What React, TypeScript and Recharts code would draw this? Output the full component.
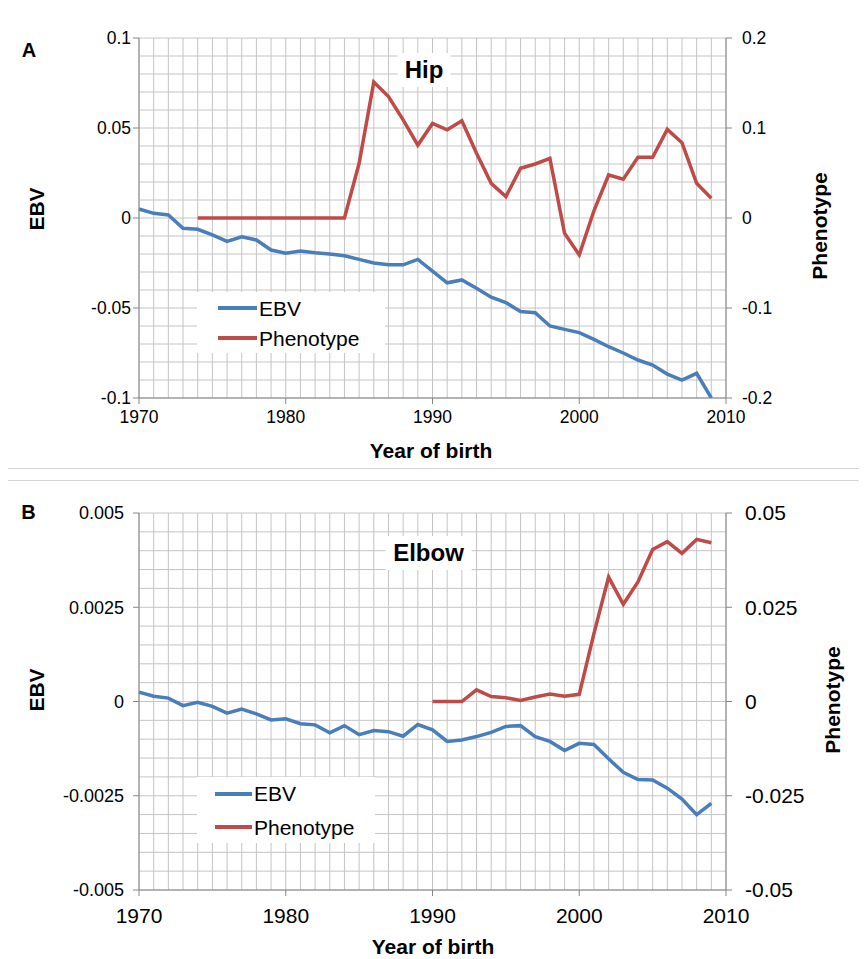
import React from "react";
import { LineChart, Line, XAxis, YAxis, CartesianGrid, Legend } from "recharts";

const years = [
  1970, 1971, 1972, 1973, 1974, 1975, 1976, 1977, 1978, 1979,
  1980, 1981, 1982, 1983, 1984, 1985, 1986, 1987, 1988, 1989,
  1990, 1991, 1992, 1993, 1994, 1995, 1996, 1997, 1998, 1999,
  2000, 2001, 2002, 2003, 2004, 2005, 2006, 2007, 2008, 2009,
];

const hipEbv = [
  0.005, 0.0026, 0.0017, -0.0057, -0.0063, -0.0094, -0.013, -0.0104, -0.0122, -0.0178,
  -0.0196, -0.0183, -0.0193, -0.02, -0.021, -0.023, -0.025, -0.026, -0.026, -0.023,
  -0.0295, -0.036, -0.0344, -0.039, -0.044, -0.047, -0.052, -0.0526, -0.06, -0.0619,
  -0.0637, -0.0674, -0.0715, -0.075, -0.0789, -0.0817, -0.0867, -0.09, -0.0863, -0.1,
];
const hipPheno = [
  null, null, null, null, 0, 0, 0, 0, 0, 0,
  0, 0, 0, 0, 0, 0.0608, 0.151, 0.135, 0.109, 0.081,
  0.105, 0.098, 0.108, 0.072, 0.0385, 0.0237, 0.0552, 0.06, 0.0663, -0.017,
  -0.041, 0.008, 0.0478, 0.043, 0.0674, 0.0674, 0.0985, 0.0837, 0.0385, 0.0219,
];

const elbowEbv = [
  0.00025, 0.00014, 0.00009, -0.00011, -0.00002, -0.00013, -0.00031, -0.0002, -0.00033, -0.00049,
  -0.00046, -0.00059, -0.00062, -0.00083, -0.00064, -0.00088, -0.00077, -0.0008, -0.00092, -0.00061,
  -0.00075, -0.00106, -0.00102, -0.00093, -0.00082, -0.00066, -0.00064, -0.00093, -0.00106, -0.0013,
  -0.00111, -0.00114, -0.00152, -0.00188, -0.00207, -0.00208, -0.0023, -0.00259, -0.003, -0.0027,
];
const elbowPheno = [
  null, null, null, null, null, null, null, null, null, null,
  null, null, null, null, null, null, null, null, null, null,
  0, 0, 0, 0.0031, 0.0013, 0.001, 0.0003, 0.0012, 0.002, 0.0014,
  0.0019, 0.018, 0.033, 0.0258, 0.0317, 0.0403, 0.0424, 0.0393, 0.043, 0.0421,
];

const xTicks = [1970, 1980, 1990, 2000, 2010];
const gridYears = [...years, 2010];

const hipLeftTicks = [-0.1, -0.05, 0, 0.05, 0.1];
const hipRightTicks = [-0.2, -0.1, 0, 0.1, 0.2];
const hipGridValues = [
  -0.1, -0.09, -0.08, -0.07, -0.06, -0.05, -0.04, -0.03, -0.02, -0.01, 0,
  0.01, 0.02, 0.03, 0.04, 0.05, 0.06, 0.07, 0.08, 0.09, 0.1,
];

const elbowLeftTicks = [-0.005, -0.0025, 0, 0.0025, 0.005];
const elbowRightTicks = [-0.05, -0.025, 0, 0.025, 0.05];
const elbowGridValues = [
  -0.005, -0.0045, -0.004, -0.0035, -0.003, -0.0025, -0.002, -0.0015, -0.001, -0.0005, 0,
  0.0005, 0.001, 0.0015, 0.002, 0.0025, 0.003, 0.0035, 0.004, 0.0045, 0.005,
];

const BLUE = "#4a7ebb";
const RED = "#be4b48";
const GRID = "#c4c4c4";
const AXIS = "#868686";
const FONT = "'Liberation Sans', Arial, sans-serif";

const hipData = years.map((year, i) => ({ year, ebv: hipEbv[i], pheno: hipPheno[i] }));
const elbowData = years.map((year, i) => ({ year, ebv: elbowEbv[i], pheno: elbowPheno[i] }));

const renderLegend = (rowH: number, padLeft: number, lineW: number, boxW: number, boxH: number, padTop: number) =>
  (props: any) => (
    <div
      style={{
        background: "#fff",
        width: boxW,
        height: boxH,
        boxSizing: "border-box",
        paddingLeft: padLeft,
        paddingTop: padTop,
        fontFamily: FONT,
        fontSize: 21,
        color: "#000",
      }}
    >
      {(props.payload || []).map((p: any) => (
        <div key={p.value} style={{ display: "flex", alignItems: "center", height: rowH }}>
          <div style={{ width: lineW, height: 4, background: p.color, marginRight: 2 }} />
          <span style={{ lineHeight: 1 }}>{p.value}</span>
        </div>
      ))}
    </div>
  );

const Text = ({ x, y, size, bold, rotate, children, box }: any) => (
  <div
    style={{
      position: "absolute",
      left: x,
      top: y,
      transform: `translate(-50%, -50%)${rotate ? " rotate(-90deg)" : ""}`,
      fontFamily: FONT,
      fontSize: size,
      fontWeight: bold ? "bold" : "normal",
      lineHeight: 1,
      whiteSpace: "nowrap",
      color: "#000",
      ...(box || {}),
    }}
  >
    {children}
  </div>
);

export default function App() {
  const tickA = { fontSize: 17.5, fill: "#000", fontFamily: FONT };
  const tickBL = { fontSize: 18, fill: "#000", fontFamily: FONT };
  const tickBR = { fontSize: 21, fill: "#000", fontFamily: FONT };
  return (
    <div style={{ position: "relative", marginLeft: -1, marginTop: -1, width: 860, height: 960 }}>
      {/* Panel A */}
      <div style={{ position: "absolute", left: 0, top: 0, width: 860, height: 462, boxSizing: "border-box", border: "1px solid #d4d4d4", overflow: "hidden" }}>
        <LineChart width={858} height={460} data={hipData} margin={{ top: 30, right: 0, bottom: 0, left: 0 }}>
          <CartesianGrid stroke={GRID} yAxisId="left" verticalValues={gridYears} horizontalValues={hipGridValues} />
          <XAxis dataKey="year" type="number" domain={[1970, 2010]} ticks={xTicks} interval={0} height={70}
            tick={tickA} tickMargin={7} stroke={AXIS} />
          <YAxis yAxisId="left" domain={[-0.1, 0.1]} ticks={hipLeftTicks} interval={0} width={131}
            tick={tickA} tickMargin={2} stroke={AXIS} allowDataOverflow />
          <YAxis yAxisId="right" orientation="right" domain={[-0.2, 0.2]} ticks={hipRightTicks} interval={0} width={140}
            tick={{ ...tickA, textAnchor: "start" }} tickMargin={10} stroke={AXIS} />
          <Legend layout="vertical" align="center" verticalAlign="middle"
            wrapperStyle={{ left: 189, top: 284, width: 188, height: 61 }}
            content={renderLegend(30, 21, 39, 188, 61, 1)} />
          <Line yAxisId="left" dataKey="ebv" name="EBV" stroke={BLUE} strokeWidth={3.5} dot={false} isAnimationActive={false} />
          <Line yAxisId="right" dataKey="pheno" name="Phenotype" stroke={RED} strokeWidth={3.5} dot={false} isAnimationActive={false} />
        </LineChart>
      </div>
      <Text x={22} y={43} size={20} bold>A</Text>
      <Text x={417} y={62.5} size={24} bold box={{ background: "#fff", padding: "5px 7px" }}>Hip</Text>
      <Text x={28.5} y={202} size={21} bold rotate>EBV</Text>
      <Text x={811.5} y={219} size={21} bold rotate>Phenotype</Text>
      <Text x={424} y={442.5} size={21} bold>Year of birth</Text>

      {/* Panel B */}
      <div style={{ position: "absolute", left: 0, top: 473, width: 860, height: 490, boxSizing: "border-box", border: "1px solid #d4d4d4", overflow: "hidden" }}>
        <LineChart width={858} height={478} data={elbowData} margin={{ top: 32, right: 0, bottom: 0, left: 0 }}>
          <CartesianGrid stroke={GRID} yAxisId="left" verticalValues={gridYears} horizontalValues={elbowGridValues} />
          <XAxis dataKey="year" type="number" domain={[1970, 2010]} ticks={xTicks} interval={0} height={69}
            tick={tickBR} tickMargin={12} stroke={AXIS} />
          <YAxis yAxisId="left" domain={[-0.005, 0.005]} ticks={elbowLeftTicks} interval={0} width={131}
            tick={tickBL} tickMargin={9} stroke={AXIS} />
          <YAxis yAxisId="right" orientation="right" domain={[-0.05, 0.05]} ticks={elbowRightTicks} interval={0} width={140}
            tick={tickBR} tickMargin={13} stroke={AXIS} />
          <Legend layout="vertical" align="center" verticalAlign="middle"
            wrapperStyle={{ left: 189, top: 296, width: 178, height: 66 }}
            content={renderLegend(33.4, 18, 37, 178, 66, 0)} />
          <Line yAxisId="left" dataKey="ebv" name="EBV" stroke={BLUE} strokeWidth={3.5} dot={false} isAnimationActive={false} />
          <Line yAxisId="right" dataKey="pheno" name="Phenotype" stroke={RED} strokeWidth={3.5} dot={false} isAnimationActive={false} />
        </LineChart>
      </div>
      <Text x={21.5} y={505} size={20} bold>B</Text>
      <Text x={421.5} y={546} size={24} bold box={{ background: "#fff", padding: "5px 8px" }}>Elbow</Text>
      <Text x={28.5} y={683} size={21} bold rotate>EBV</Text>
      <Text x={824.5} y={693} size={21} bold rotate>Phenotype</Text>
      <Text x={426} y={938.5} size={21} bold>Year of birth</Text>
    </div>
  );
}
